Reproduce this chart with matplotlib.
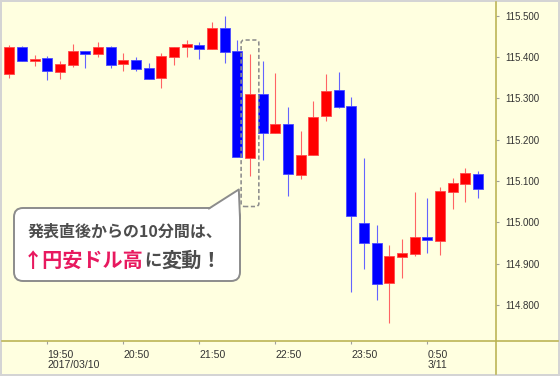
import matplotlib
matplotlib.use("Agg")
import numpy as np
import matplotlib.pyplot as plt
from matplotlib.patches import FancyBboxPatch, Rectangle, Polygon
from matplotlib.lines import Line2D
from matplotlib.text import Annotation
from matplotlib.transforms import Affine2D

plt.rcParams['font.family'] = ['Liberation Sans', 'DejaVu Sans']

# USD/JPY 10-minute candles, 2017/03/10 19:20 - 03/11 01:30
times = ["19:20", "19:30", "19:40", "19:50", "20:00", "20:10", "20:20", "20:30",
         "20:40", "20:50", "21:00", "21:10", "21:20", "21:30", "21:40", "21:50",
         "22:00", "22:10", "22:20", "22:30", "22:40", "22:50", "23:00", "23:10",
         "23:20", "23:30", "23:40", "23:50", "00:00", "00:10", "00:20", "00:30",
         "00:40", "00:50", "01:00", "01:10", "01:20", "01:30"]
opens = [115.359, 115.424, 115.389, 115.397, 115.364, 115.381, 115.415, 115.406,
         115.424, 115.382, 115.393, 115.373, 115.349, 115.401, 115.423, 115.429,
         115.419, 115.470, 115.415, 115.155, 115.311, 115.217, 115.238, 115.115,
         115.163, 115.257, 115.321, 115.281, 114.998, 114.949, 114.853, 114.916,
         114.923, 114.964, 114.954, 115.074, 115.093, 115.117]
highs = [115.430, 115.427, 115.405, 115.403, 115.391, 115.432, 115.415, 115.437,
         115.427, 115.410, 115.399, 115.385, 115.409, 115.425, 115.441, 115.436,
         115.485, 115.498, 115.440, 115.407, 115.389, 115.362, 115.280, 115.221,
         115.293, 115.359, 115.363, 115.303, 115.156, 114.994, 114.944, 114.960,
         115.072, 115.058, 115.085, 115.107, 115.132, 115.124]
lows = [115.350, 115.389, 115.377, 115.344, 115.346, 115.375, 115.373, 115.399,
        115.373, 115.365, 115.367, 115.347, 115.326, 115.380, 115.399, 115.396,
        115.419, 115.386, 115.157, 115.113, 115.151, 115.217, 115.064, 115.105,
        115.163, 115.244, 115.276, 114.830, 114.887, 114.812, 114.756, 114.865,
        114.919, 114.925, 114.921, 115.033, 115.050, 115.058]
closes = [115.424, 115.390, 115.396, 115.365, 115.383, 115.415, 115.407, 115.424,
          115.381, 115.393, 115.371, 115.347, 115.403, 115.424, 115.432, 115.419,
          115.470, 115.413, 115.157, 115.311, 115.217, 115.237, 115.117, 115.163,
          115.255, 115.318, 115.278, 115.014, 114.950, 114.850, 114.919, 114.926,
          114.965, 114.957, 115.075, 115.094, 115.119, 115.081]

tick_times = ["19:50", "20:50", "21:50", "22:50", "23:50", "00:50"]
tick_labels = ["19:50\n2017/03/10", "20:50", "21:50", "22:50", "23:50", "0:50\n3/11"]
price_ticks = [114.8, 114.9, 115.0, 115.1, 115.2, 115.3, 115.4, 115.5]

release_time = "22:30"
note_line1 = "発表直後からの10分間は、"
note_hi = "↑円安ドル高"
note_ni = "に"
note_end = "変動！"


def to_min(s):
    h, m = map(int, s.split(":"))
    if h < 12:
        h += 24
    return (h - 19) * 60 + m


W, H = 560, 376
fig = plt.figure(figsize=(W / 100, H / 100), dpi=100, facecolor="#d4d4d4")
# pixel coords (origin top-left) for the decoration
pix = Affine2D().scale(1 / 100, -1 / 100).translate(0, H / 100) + fig.dpi_scale_trans

fig.add_artist(Rectangle((2 / W, 2 / H), 556 / W, 372 / H, transform=fig.transFigure,
                         facecolor="#ffffe0", edgecolor="none", zorder=-5))

ax_l, ax_r, ax_t, ax_b = 2, 495.8, 2, 340.8
ax = fig.add_axes([ax_l / W, (H - ax_b) / H, (ax_r - ax_l) / W, (ax_b - ax_t) / H])
ax.set_facecolor("none")
for sp in ax.spines.values():
    sp.set_visible(False)

x = np.array([to_min(t) for t in times])
o, h, l, c = map(np.array, (opens, highs, lows, closes))
up = c >= o
body_col = np.where(up, "#ff0000", "#0000ff")
edge_col = np.where(up, "#ff4a4a", "#4a4aff")
wick_col = np.where(up, "#ff6464", "#6464ff")

ax.vlines(x, l, h, colors=wick_col, linewidth=0.8, zorder=2)
ax.bar(x, np.abs(c - o), bottom=np.minimum(o, c), width=7.9, color=body_col,
       edgecolor=edge_col, linewidth=0.6, zorder=3)

ax.set_xlim(14.2, 404.1)
ax.set_ylim(114.713, 115.533)

ax.set_xticks([to_min(t) for t in tick_times])
ax.set_xticklabels(tick_labels)
plt.setp(ax.get_xticklabels(), ha="left", linespacing=1.0)
ax.yaxis.tick_right()
ax.set_yticks(price_ticks)
ax.set_yticklabels([f"{v:.3f}" for v in price_ticks])
ax.tick_params(axis="x", direction="out", length=2.3, width=0.8, color="#a0a0a0",
               pad=4.5, labelsize=7.6, labelcolor="#333333")
ax.tick_params(axis="y", direction="out", length=2.3, width=0.8, color="#a0a0a0",
               pad=4.5, labelsize=7.0, labelcolor="#333333")

# axis lines run across the whole panel
line_col = "#bab250"
fig.add_artist(Line2D([ax_r / W] * 2, [2 / H, 1 - 2 / H], transform=fig.transFigure,
                      color=line_col, linewidth=1.15, zorder=2))
fig.add_artist(Line2D([2 / W, 1 - 2 / W], [(H - ax_b) / H] * 2, transform=fig.transFigure,
                      color=line_col, linewidth=1.15, zorder=2))

# dashed box around the release candle
i = times.index(release_time)
bx0, bx1 = x[i] - 7.0, x[i] + 7.0
by0, by1 = l[i] - 0.075, h[i] + 0.034
ax.add_patch(FancyBboxPatch((bx0, by0), bx1 - bx0, by1 - by0,
                            boxstyle="round,pad=0,rounding_size=2.4", mutation_aspect=0.00307,
                            facecolor="none", edgecolor="#8c8c8c", linewidth=1.15,
                            linestyle=(0, (2.6, 1.6)), zorder=4, clip_on=False))

# speech bubble
bub_ec = "#8c8c8c"
fig.add_artist(FancyBboxPatch((14, 208), 226, 73, boxstyle="round,pad=0,rounding_size=9",
                              transform=pix, facecolor="white", edgecolor=bub_ec,
                              linewidth=1.4, zorder=3))
fig.add_artist(Polygon([(208, 210), (238.8, 189.5), (240, 218), (228, 218)], closed=True,
                       transform=pix, facecolor="white", edgecolor="none", zorder=4))
fig.add_artist(Line2D([209, 238.8, 240], [208.5, 189.5, 218], transform=pix,
                      color=bub_ec, linewidth=1.4, solid_joinstyle="round", zorder=5))

cjk = ["Noto Sans CJK JP", "DejaVu Sans"]
fig.text(125, 231.5, note_line1, transform=pix, ha="center", va="center",
         family=cjk, fontsize=11.5, fontweight="bold", color="#4d4d4d", zorder=6)
t_a = fig.text(23, 260, note_hi, transform=pix, ha="left", va="center",
               family=cjk, fontsize=14.5, fontweight="bold", color="#e8195f", zorder=6)
t_b = fig.add_artist(Annotation(note_ni, xy=(1, 0), xycoords=t_a, ha="left", va="bottom",
                                family=cjk, fontsize=12.5, fontweight="bold",
                                color="#4d4d4d", zorder=6))
fig.add_artist(Annotation(note_end, xy=(1, 0), xycoords=t_b, ha="left", va="bottom",
                          family=cjk, fontsize=14.5, fontweight="bold",
                          color="#4d4d4d", zorder=6))

fig.savefig("out.png", dpi=100, facecolor=fig.get_facecolor())
